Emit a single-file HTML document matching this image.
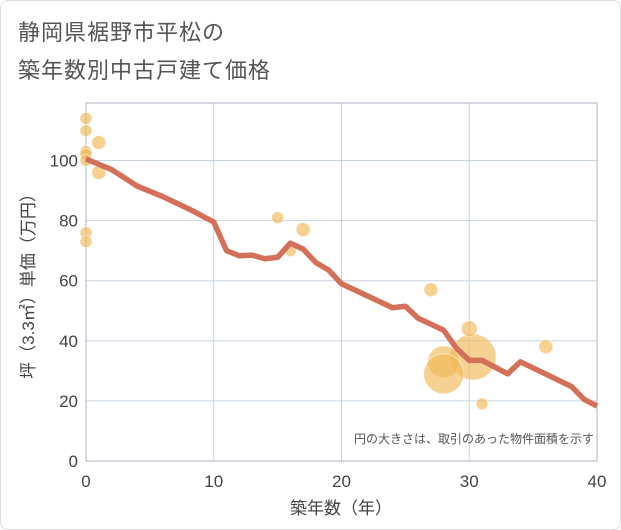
<!DOCTYPE html>
<html><head><meta charset="utf-8"><style>
body{margin:0;background:#fff;font-family:"Liberation Sans","Noto Sans CJK JP",sans-serif}
#card{position:absolute;left:0;top:0;width:619px;height:528px;border:1px solid #ddd;border-radius:8px;background:#fff}
.t{position:absolute;left:18px;font-size:22px;color:#555;letter-spacing:1px}
</style></head><body>
<div id="card"></div>
<div class="t" style="top:15px">静岡県裾野市平松の</div>
<div class="t" style="top:53px">築年数別中古戸建て価格</div>
<svg id="c" width="621" height="530" style="position:absolute;left:0;top:0"></svg>
<script>
const xTicks=[0,10,20,30,40];
const yTicks=[0,20,40,60,80,100];
const lineYears=[0,2,4,6,8,10,11,12,13,14,15,16,17,18,19,20,22,24,25,26,28,29,30,31,33,34,38,39,40];
const lineValues=[100.5,97,91.5,88,84,79.5,70,68.3,68.5,67.3,67.8,72.5,70.5,66,63.5,59,55,51,51.5,47.5,43.5,37.5,33.5,33.5,29,33,24.8,20.5,18.3];
const dotYears=[0,0,0,0,0,1,1,0,0,15,16,17,27,30.3,28,28,30,31,36];
const dotValues=[114,110,103,102,100,106,96,76,73,81,70,77,57,34.6,33,29,44,19,38];
const dotSizes=[6,6,6,6,6,7,7,6,6,6,6,7,7,23,16,20,8,6,7];
const NS="http://www.w3.org/2000/svg";
const svg=document.getElementById('c');
const X0=86,X1=597,Y0=461,YT=103;
const xs=v=>X0+(X1-X0)*v/40;
const ys=v=>Y0-v*3.005;
function mk(t,a){const e=document.createElementNS(NS,t);for(const k in a)e.setAttribute(k,a[k]);svg.appendChild(e);return e;}
xTicks.forEach(t=>{
 const l=mk('line',{x1:xs(t),x2:xs(t),y1:YT,y2:Y0,stroke:'#c8d4e0','stroke-width':1});
 
 
 const tx=mk('text',{x:xs(t),y:487,'text-anchor':'middle','font-size':17,fill:'#444'});
 tx.textContent=t;
 
 
});
yTicks.forEach(t=>{
 const l=mk('line',{x1:X0,x2:X1,y1:ys(t),y2:ys(t),stroke:'#c8d4e0','stroke-width':1});
 
 
 const tx=mk('text',{x:78,y:ys(t)+6,'text-anchor':'end','font-size':17,fill:'#444'});
 tx.textContent=t;
 
 
});
const fr=mk('rect',{x:X0,y:YT,width:X1-X0,height:Y0-YT,fill:'none',stroke:'#aab4bf','stroke-width':1});


dotYears.forEach((d,i)=>{
 const c=mk('circle',{cx:xs(d),cy:ys(dotValues[i]),r:dotSizes[i],fill:'#f0b858','fill-opacity':0.65,stroke:'#fff','stroke-opacity':0.5});
 
 
});
const p=mk('polyline',{points:lineYears.map((d,i)=>xs(d)+','+ys(lineValues[i])).join(' '),fill:'none',stroke:'#d4705a','stroke-width':5.5,'stroke-linejoin':'round'});


const note=mk('text',{x:594,y:443,'text-anchor':'end','font-size':12,fill:'#555'});
note.textContent='円の大きさは、取引のあった物件面積を示す';


const xl=mk('text',{x:341,y:514,'text-anchor':'middle','font-size':17,fill:'#444'});
xl.textContent='築年数（年）';


const yl=mk('text',{x:0,y:0,'text-anchor':'middle','font-size':17,fill:'#444',transform:'translate(34,282) rotate(-90)'});
yl.textContent='坪（3.3㎡）単価（万円）';


</script>
</body></html>
